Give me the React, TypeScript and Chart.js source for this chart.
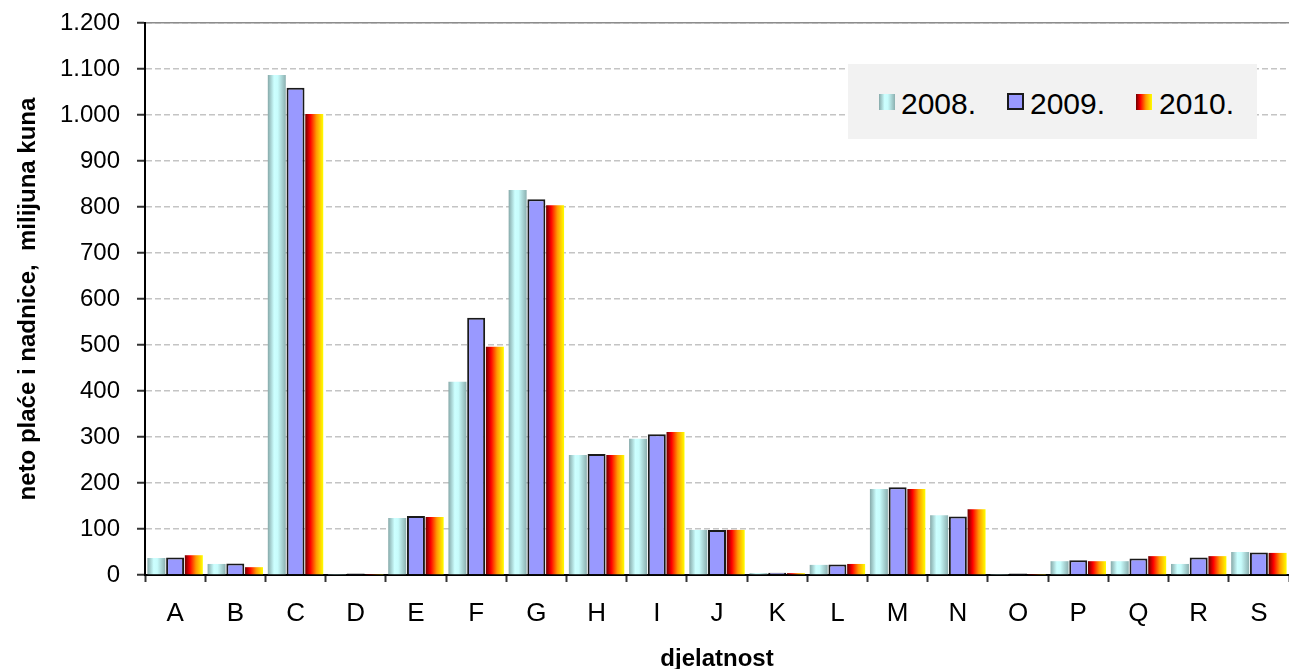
import React, { useEffect, useRef } from 'react';
import { Chart, registerables } from 'chart.js';

Chart.register(...registerables);

const categories = ['A', 'B', 'C', 'D', 'E', 'F', 'G', 'H', 'I', 'J', 'K', 'L', 'M', 'N', 'O', 'P', 'Q', 'R', 'S'];
const values2008 = [37, 24, 1087, 1, 124, 420, 837, 261, 296, 98, 4, 22, 187, 130, 1, 30, 30, 24, 50];
const values2009 = [38, 25, 1059, 3, 128, 559, 817, 263, 306, 98, 5, 23, 191, 127, 3, 32, 36, 38, 49];
const values2010 = [43, 17, 1002, 1, 126, 496, 804, 261, 311, 98, 4, 24, 187, 143, 1, 30, 41, 41, 48];
const seriesLabels = ['2008.', '2009.', '2010.'];
const yMin = 0;
const yMax = 1200;
const yStep = 100;
const xTitle = 'djelatnost';
const yTitle = 'neto plaće i nadnice,  milijuna kuna';

const FONT = "'Liberation Sans', Arial, Helvetica, sans-serif";
const CAT_PCT = 0.933;
const BAR_PCT = 0.96;

const stops2008: [number, string][] = [
  [0, '#86a9a9'],
  [0.35, '#ccffff'],
  [0.55, '#c8fcfc'],
  [1, '#8cb0b0'],
];
const stops2010: [number, string][] = [
  [0, '#6e0000'],
  [0.28, '#ff0000'],
  [0.62, '#ff9900'],
  [1, '#ffff00'],
];

function barGradient(c: any, stops: [number, string][]) {
  const chart = c.chart;
  const xs = chart.scales && chart.scales.x;
  if (!chart.chartArea || !xs || c.dataIndex === undefined || c.type !== 'data') return stops[1][1];
  const n = categories.length;
  const catW = xs.width / n;
  const slot = (catW * CAT_PCT) / 3;
  const center = xs.getPixelForValue(c.dataIndex) + (c.datasetIndex - 1) * slot;
  const half = (slot * BAR_PCT) / 2;
  const g = chart.ctx.createLinearGradient(center - half, 0, center + half, 0);
  stops.forEach(([o, col]) => g.addColorStop(o, col));
  return g;
}

function fmt(v: number) {
  return String(v).replace(/\B(?=(\d{3})+(?!\d))/g, '.');
}

export default function App() {
  const ref = useRef<HTMLCanvasElement | null>(null);

  useEffect(() => {
    document.body.style.margin = '0';
    const canvas = ref.current;
    if (!canvas) return;
    const chart = new Chart(canvas, {
      type: 'bar',
      data: {
        labels: categories,
        datasets: [
          {
            label: seriesLabels[0],
            data: values2008,
            backgroundColor: (c: any) => barGradient(c, stops2008),
            borderWidth: 0,
          },
          {
            label: seriesLabels[1],
            data: values2009,
            backgroundColor: '#9999ff',
            borderColor: '#1a1a1a',
            borderWidth: 2,
          },
          {
            label: seriesLabels[2],
            data: values2010,
            backgroundColor: (c: any) => barGradient(c, stops2010),
            borderWidth: 0,
          },
        ],
      },
      options: {
        animation: false,
        responsive: true,
        maintainAspectRatio: false,
        layout: { padding: { top: 23, right: 0, bottom: 0, left: 0 } },
        datasets: { bar: { categoryPercentage: CAT_PCT, barPercentage: BAR_PCT } },
        plugins: { legend: { display: false }, tooltip: { enabled: false } },
        scales: {
          x: {
            type: 'category',
            position: 'bottom',
            offset: true,
            grid: {
              display: true,
              offset: true,
              drawOnChartArea: false,
              drawTicks: true,
              tickLength: 7,
              tickColor: '#333',
              tickWidth: 2,
            },
            border: { display: true, color: '#000', width: 2 },
            ticks: { color: '#000', font: { family: FONT, size: 26 }, padding: 16 },
            title: {
              display: true,
              text: xTitle,
              color: '#000',
              font: { family: FONT, size: 24, weight: 'bold' },
              padding: { top: 0, bottom: -5 },
            },
            afterFit: (s: any) => {
              s.height = 94;
              s.paddingLeft = 0;
              s.paddingRight = 0;
            },
          },
          x2: {
            type: 'category',
            position: 'top',
            labels: categories,
            grid: { display: false, drawTicks: false },
            border: { display: true, color: '#8c8c8c', width: 1.5 },
            ticks: { display: false },
            afterFit: (s: any) => {
              s.height = 0;
              s.paddingLeft = 0;
              s.paddingRight = 0;
            },
          },
          y: {
            min: yMin,
            max: yMax,
            ticks: {
              stepSize: yStep,
              color: '#000',
              font: { family: FONT, size: 24 },
              padding: 17,
              callback: (v: any) => fmt(Number(v)),
            },
            grid: {
              color: '#c4c4c4',
              lineWidth: 1.5,
              tickLength: 8,
              tickColor: '#333',
              tickWidth: 2,
            },
            border: { display: true, color: '#000', width: 2, dash: [6, 3] },
            title: {
              display: true,
              text: yTitle,
              color: '#000',
              font: { family: FONT, size: 24, weight: 'bold' },
              padding: { top: 14, bottom: 0 },
            },
            afterFit: (s: any) => {
              s.width = 145;
              s.paddingTop = 0;
              s.paddingBottom = 0;
            },
          },
        },
      } as any,
    });
    return () => chart.destroy();
  }, []);

  const txt: React.CSSProperties = {
    position: 'absolute',
    top: 89,
    fontFamily: FONT,
    fontSize: 30,
    lineHeight: '30px',
    color: '#000',
    whiteSpace: 'nowrap',
  };
  const sq: React.CSSProperties = { position: 'absolute', top: 94, width: 16, height: 16, boxSizing: 'border-box' };

  return (
    <div style={{ position: 'relative', width: 1289, height: 669 }}>
      <canvas ref={ref} />
      <div style={{ position: 'absolute', left: 848, top: 64, width: 409, height: 75, background: '#f2f2f2' }} />
      <div style={{ ...sq, left: 879, background: 'linear-gradient(to right, #86a9a9 0%, #ccffff 35%, #c8fcfc 55%, #8cb0b0 100%)' }} />
      <span style={{ ...txt, left: 901 }}>{seriesLabels[0]}</span>
      <div style={{ ...sq, left: 1007, top: 93, width: 17, height: 17, background: '#9999ff', border: '2px solid #1a1a1a' }} />
      <span style={{ ...txt, left: 1030 }}>{seriesLabels[1]}</span>
      <div style={{ ...sq, left: 1136, background: 'linear-gradient(to right, #6e0000 0%, #ff0000 28%, #ff9900 62%, #ffff00 100%)' }} />
      <span style={{ ...txt, left: 1159 }}>{seriesLabels[2]}</span>
    </div>
  );
}
